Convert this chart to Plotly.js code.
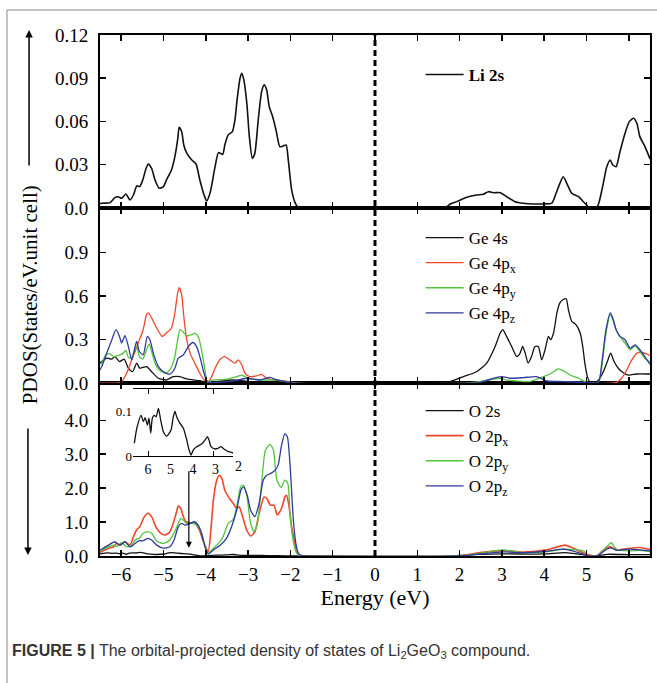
<!DOCTYPE html>
<html><head><meta charset="utf-8">
<script src="https://cdn.plot.ly/plotly-3.0.1.min.js"></script>
<style>html,body{margin:0;padding:0;background:#fff}</style>
</head><body><div id="chart" style="width:657px;height:683px"></div>
<script>
// ---------- DATA (energy in eV, PDOS in states/eV.unit cell) ----------
const xTicks = [-6,-5,-4,-3,-2,-1,0,1,2,3,4,5,6];

// Li 2s (top panel)
const li2sE = [-6.5,-6.46,-6.26,-6.15,-6.07,-5.99,-5.89,-5.79,-5.71,-5.63,-5.56,-5.49,-5.41,-5.36,-5.28,-5.20,-5.10,-5.00,-4.93,-4.81,-4.73,-4.66,-4.63,-4.57,-4.52,-4.45,-4.33,-4.23,-4.14,-4.04,-3.98,-3.90,-3.78,-3.70,-3.60,-3.55,-3.47,-3.37,-3.31,-3.26,-3.19,-3.15,-3.10,-3.03,-2.97,-2.90,-2.84,-2.76,-2.68,-2.62,-2.56,-2.50,-2.42,-2.34,-2.25,-2.17,-2.10,-2.05,-1.97,-1.89,-1.83,-1.75,1.65,1.77,1.93,2.17,2.40,2.56,2.68,2.80,2.96,3.11,3.31,3.51,3.74,3.98,4.18,4.28,4.37,4.45,4.55,4.65,4.81,4.96,5.08,5.24,5.30,5.38,5.48,5.56,5.62,5.70,5.79,5.91,6.01,6.11,6.19,6.26,6.38,6.48,6.5];
const li2sV = [0.003,0.0033,0.0037,0.0072,0.0078,0.0067,0.0097,0.0056,0.009,0.0153,0.0148,0.0194,0.0275,0.0305,0.0275,0.0194,0.0137,0.0148,0.0194,0.0264,0.0356,0.0484,0.056,0.053,0.0437,0.038,0.0333,0.0305,0.0194,0.009,0.0049,0.0102,0.0287,0.0384,0.0372,0.0437,0.0507,0.053,0.0611,0.075,0.090,0.0935,0.0889,0.0727,0.0495,0.0345,0.038,0.0611,0.0807,0.0854,0.0819,0.0703,0.0634,0.0541,0.0426,0.043,0.0437,0.0333,0.0125,0.0037,0.0009,0,0,0.0026,0.0044,0.0074,0.009,0.0095,0.0113,0.0106,0.0106,0.0078,0.0044,0.0033,0.0028,0.0028,0.0033,0.0102,0.0171,0.0217,0.016,0.0102,0.0078,0.0033,0,0,0.0044,0.0148,0.0287,0.0333,0.0298,0.0287,0.039,0.0518,0.0599,0.0622,0.0588,0.0495,0.0426,0.0356,0.034];

// Ge 4s, 4px, 4py, 4pz (middle panel)
const ge4sE = [-6.5,-6.46,-6.34,-6.22,-6.15,-6.04,-5.93,-5.83,-5.73,-5.63,-5.56,-5.40,-5.28,-5.12,-4.93,-4.77,-4.61,-4.45,-4.14,-3.96,-3.35,-2.96,-2.5,-2.0,1.5,1.77,2.09,2.40,2.64,2.84,2.96,3.02,3.11,3.23,3.35,3.43,3.49,3.55,3.62,3.70,3.78,3.86,3.94,4.02,4.10,4.15,4.22,4.30,4.37,4.45,4.52,4.57,4.65,4.75,4.85,4.91,4.96,5.02,5.08,5.24,5.36,5.48,5.57,5.65,5.75,5.87,5.99,6.19,6.46,6.5];
const ge4sV = [0.14,0.148,0.171,0.164,0.182,0.148,0.164,0.102,0.078,0.137,0.102,0.113,0.078,0.033,0.021,0.044,0.044,0.028,0.016,0.005,0.021,0.01,0.005,0,0,0.009,0.044,0.078,0.137,0.252,0.344,0.367,0.321,0.252,0.182,0.206,0.252,0.206,0.137,0.182,0.252,0.252,0.159,0.229,0.321,0.298,0.344,0.483,0.552,0.575,0.58,0.506,0.425,0.402,0.344,0.252,0.137,0.044,0.009,0.009,0.055,0.137,0.206,0.148,0.102,0.071,0.055,0.062,0.062,0.062];

const ge4pxE = [-6.5,-6.1,-5.99,-5.87,-5.75,-5.67,-5.60,-5.49,-5.40,-5.36,-5.28,-5.16,-5.03,-4.93,-4.81,-4.73,-4.67,-4.63,-4.57,-4.52,-4.45,-4.37,-4.26,-4.14,-4.04,-3.96,-3.86,-3.78,-3.66,-3.55,-3.43,-3.31,-3.23,-3.15,-3.07,-2.96,-2.80,-2.68,-2.56,-2.40,-2.21,-2.01,-1.9,5.6,5.71,5.83,5.95,6.07,6.19,6.31,6.42,6.5];
const ge4pxV = [0,0,0.009,0.067,0.16,0.217,0.275,0.356,0.471,0.483,0.448,0.379,0.321,0.344,0.379,0.483,0.61,0.656,0.61,0.46,0.298,0.206,0.137,0.067,0.021,0.002,0.044,0.102,0.164,0.182,0.159,0.137,0.159,0.125,0.067,0.044,0.049,0.06,0.033,0.021,0.016,0.009,0,0,0.005,0.033,0.09,0.159,0.206,0.21,0.2,0.19];

const ge4pyE = [-6.5,-6.46,-6.36,-6.26,-6.18,-6.11,-6.03,-5.95,-5.89,-5.83,-5.75,-5.67,-5.63,-5.57,-5.49,-5.40,-5.34,-5.28,-5.20,-5.10,-4.96,-4.85,-4.75,-4.69,-4.61,-4.55,-4.45,-4.33,-4.26,-4.18,-4.10,-4.02,-3.96,-3.82,-3.51,-3.27,-3.15,-3.00,-2.72,-2.40,-2.17,-1.9,2.2,2.48,2.96,3.11,3.35,3.66,3.98,4.14,4.33,4.45,4.61,4.81,4.96,5.08,5.28,5.36,5.46,5.56,5.62,5.70,5.79,5.91,6.03,6.15,6.26,6.38,6.48,6.5];
const ge4pyV = [0.13,0.137,0.194,0.2,0.182,0.187,0.194,0.206,0.224,0.178,0.171,0.24,0.252,0.182,0.164,0.229,0.27,0.217,0.137,0.09,0.067,0.09,0.159,0.252,0.367,0.356,0.326,0.333,0.344,0.321,0.229,0.09,0.009,0.021,0.026,0.044,0.055,0.033,0.021,0.021,0.014,0,0,0.009,0.033,0.021,0.014,0.01,0.044,0.062,0.097,0.085,0.055,0.033,0.01,0,0.005,0.113,0.344,0.471,0.437,0.367,0.321,0.275,0.229,0.256,0.217,0.171,0.148,0.145];

const ge4pzE = [-6.5,-6.46,-6.34,-6.22,-6.12,-6.04,-5.99,-5.91,-5.83,-5.75,-5.67,-5.63,-5.57,-5.48,-5.38,-5.32,-5.24,-5.12,-5.00,-4.85,-4.73,-4.65,-4.53,-4.41,-4.30,-4.22,-4.14,-4.04,-3.96,-3.35,-3.03,-2.72,-2.48,-2.32,-1.9,2.2,2.48,2.72,2.99,3.19,3.51,3.82,4.06,4.45,4.96,5.28,5.36,5.46,5.56,5.62,5.70,5.79,5.91,6.03,6.15,6.26,6.38,6.48,6.5];
const ge4pzV = [0.09,0.113,0.206,0.298,0.367,0.321,0.275,0.326,0.252,0.159,0.252,0.286,0.217,0.194,0.321,0.298,0.206,0.113,0.078,0.062,0.102,0.171,0.194,0.252,0.279,0.252,0.182,0.067,0.009,0.014,0.033,0.021,0.039,0.021,0,0,0.005,0.026,0.044,0.033,0.037,0.044,0.014,0.01,0.005,0.005,0.137,0.367,0.483,0.448,0.367,0.321,0.298,0.24,0.263,0.229,0.182,0.137,0.13];

// O 2s, 2px, 2py, 2pz (bottom panel; O 2s also shown magnified in the inset)
const o2sE = [-6.61,-6.50,-6.31,-6.21,-6.13,-6.03,-5.96,-5.88,-5.81,-5.72,-5.64,-5.54,-5.44,-5.32,-5.17,-4.98,-4.88,-4.80,-4.73,-4.58,-4.43,-4.28,-4.18,-4.09,-3.99,-3.84,-3.62,-3.47,-3.36,-3.29,-3.20,-3.05,-2.90,-2.76,-2.58,-2.43,-2.28,-2.0,-1.8,1.8,2.0,3.0,4.0,4.5,5.0,5.2,5.5,6.0,6.5];
const o2sV = [0.029,0.063,0.092,0.078,0.087,0.070,0.086,0.052,0.086,0.092,0.089,0.108,0.082,0.055,0.045,0.059,0.089,0.101,0.089,0.074,0.063,0.036,0.014,0.002,0.014,0.021,0.027,0.036,0.044,0.036,0.021,0.016,0.017,0.021,0.014,0.010,0.008,0.004,0,0,0.02,0.06,0.06,0.1,0.02,0,0.05,0.04,0.04];

const o2pxE = [-6.5,-6.46,-6.30,-6.18,-6.11,-6.03,-5.91,-5.79,-5.71,-5.63,-5.56,-5.46,-5.37,-5.28,-5.18,-5.08,-4.96,-4.85,-4.77,-4.69,-4.65,-4.59,-4.53,-4.47,-4.37,-4.26,-4.15,-4.07,-3.99,-3.94,-3.88,-3.82,-3.74,-3.68,-3.62,-3.55,-3.44,-3.35,-3.27,-3.21,-3.13,-3.03,-2.94,-2.84,-2.74,-2.62,-2.56,-2.47,-2.39,-2.31,-2.21,-2.13,-2.09,-2.03,-1.97,-1.91,-1.85,-1.75,2.0,2.48,3.03,3.51,4.06,4.49,4.69,5.0,5.24,5.40,5.56,5.71,6.03,6.26,6.48,6.5];
const o2pxV = [0.1,0.13,0.23,0.27,0.37,0.32,0.42,0.32,0.57,0.78,0.86,1.14,1.26,1.16,0.86,0.69,0.62,0.71,0.96,1.30,1.47,1.40,1.16,1.01,0.98,0.96,0.76,0.47,0.23,0.13,0.76,1.65,2.24,2.38,2.29,1.94,1.70,1.55,1.40,1.45,1.16,0.76,0.59,0.71,1.26,1.74,1.70,1.50,1.50,1.21,1.40,1.74,1.79,1.45,0.86,0.47,0.13,0,0,0.1,0.16,0.12,0.18,0.32,0.23,0.05,0,0.18,0.27,0.18,0.23,0.25,0.2,0.2];

const o2pyE = [-6.5,-6.46,-6.30,-6.18,-6.11,-5.99,-5.87,-5.75,-5.65,-5.57,-5.48,-5.37,-5.28,-5.16,-5.00,-4.85,-4.74,-4.65,-4.59,-4.53,-4.45,-4.30,-4.19,-4.10,-4.02,-3.94,-3.82,-3.70,-3.59,-3.47,-3.35,-3.26,-3.17,-3.11,-3.03,-2.94,-2.86,-2.78,-2.68,-2.59,-2.48,-2.40,-2.32,-2.22,-2.13,-2.06,-2.01,-1.95,-1.87,-1.78,2.0,2.48,3.03,3.50,4.06,4.45,4.93,5.05,5.24,5.48,5.58,5.71,6.0,6.26,6.48,6.5];
const o2pyV = [0.14,0.17,0.27,0.32,0.28,0.39,0.27,0.32,0.49,0.52,0.67,0.71,0.67,0.44,0.37,0.47,0.71,0.96,1.11,1.06,0.96,0.96,0.88,0.67,0.32,0.08,0.23,0.37,0.57,0.96,1.08,1.50,2.06,2.09,1.79,0.96,0.71,0.96,2.14,3.12,3.29,3.12,2.24,2.02,2.24,2.14,1.26,0.57,0.13,0,0,0.08,0.18,0.1,0.12,0.2,0.15,0,0,0.27,0.39,0.2,0.15,0.17,0.13,0.13];

const o2pzE = [-6.5,-6.46,-6.30,-6.15,-6.03,-5.91,-5.79,-5.67,-5.57,-5.48,-5.37,-5.28,-5.16,-5.00,-4.85,-4.75,-4.65,-4.57,-4.49,-4.37,-4.27,-4.18,-4.10,-4.02,-3.94,-3.82,-3.66,-3.51,-3.39,-3.27,-3.17,-3.11,-3.02,-2.94,-2.84,-2.74,-2.64,-2.56,-2.47,-2.36,-2.29,-2.21,-2.13,-2.07,-2.01,-1.93,-1.87,-1.81,-1.7,2.0,2.48,3.03,3.50,4.06,4.45,4.81,5.0,5.24,5.48,5.58,5.71,6.0,6.26,6.48,6.5];
const o2pzV = [0.17,0.2,0.32,0.42,0.32,0.42,0.27,0.37,0.45,0.45,0.52,0.47,0.32,0.23,0.27,0.47,0.86,0.96,0.91,0.96,1.01,0.91,0.67,0.27,0.06,0.18,0.32,0.52,0.86,1.35,1.94,2.04,1.79,1.35,1.16,1.55,2.24,2.38,2.43,2.53,2.68,3.26,3.61,3.51,2.73,1.06,0.37,0.08,0,0,0.06,0.12,0.1,0.14,0.2,0.1,0.02,0,0.2,0.24,0.17,0.2,0.18,0.15,0.15];

// tick labels
const topTickVals = [0,0.03,0.06,0.09,0.12], topTickText = ['0.0','0.03','0.06','0.09','0.12'];
const midTickVals = [0,0.3,0.6,0.9], midTickText = ['0.0','0.3','0.6','0.9'];
const botTickVals = [0,1,2,3,4], botTickText = ['0.0','1.0','2.0','3.0','4.0'];
const insetTickVals = [-6,-5,-4,-3], insetTickText = ['6','5','4','3'];
const insetEndTickText = '2';   // label just past the inset axis end

// ---------- STYLE ----------
const RED='#f0472a', GREEN='#52c43c', BLUE='#2f3a9c', BLACK='#111111';
const SERIF='"Liberation Serif","Times New Roman",serif';

function tr(x,y,name,color,w,xa,ya,legend){
  return {x:x,y:y,name:name,type:'scatter',mode:'lines',line:{color:color,width:w,shape:'spline',smoothing:0.6},
    xaxis:xa,yaxis:ya,legend:legend,showlegend:!!legend};
}
const traces = [
  tr(li2sE,li2sV,'<b>Li 2s</b>',BLACK,1.6,'x3','y3','legend'),
  tr(ge4sE,ge4sV,'Ge 4s',BLACK,1.3,'x2','y2','legend2'),
  tr(ge4pxE,ge4pxV,'Ge 4p<sub>x</sub>',RED,1.3,'x2','y2','legend2'),
  tr(ge4pyE,ge4pyV,'Ge 4p<sub>y</sub>',GREEN,1.3,'x2','y2','legend2'),
  tr(ge4pzE,ge4pzV,'Ge 4p<sub>z</sub>',BLUE,1.3,'x2','y2','legend2'),
  tr(o2sE,o2sV,'O 2s',BLACK,1.3,'x','y','legend3'),
  tr(o2pxE,o2pxV,'O 2p<sub>x</sub>',RED,1.6,'x','y','legend3'),
  tr(o2pyE,o2pyV,'O 2p<sub>y</sub>',GREEN,1.3,'x','y','legend3'),
  tr(o2pzE,o2pzV,'O 2p<sub>z</sub>',BLUE,1.3,'x','y','legend3'),
  tr(o2sE,o2sV,'O 2s inset',BLACK,1.3,'x4','y4',null)
];

const axBase = {showline:true,linewidth:2,linecolor:'#000',mirror:'ticks',ticks:'inside',ticklen:6,tickwidth:1.5,tickcolor:'#000',
  showgrid:false,zeroline:false,tickfont:{family:SERIF,size:19,color:'#000'}};
const xBase = Object.assign({},axBase,{range:[-6.5,6.5],tickvals:xTicks});
const dTop=[0.668,1], dMid=[0.332,0.668], dBot=[0,0.332];

const legBase = {font:{family:SERIF,size:17,color:'#000'},bgcolor:'rgba(0,0,0,0)',xanchor:'left',yanchor:'top',tracegroupgap:0,itemwidth:38};

const layout = {
  width:657,height:683,margin:{l:100,r:7,t:35,b:127},
  paper_bgcolor:'#fff',plot_bgcolor:'rgba(0,0,0,0)',
  xaxis:Object.assign({},xBase,{anchor:'y',domain:[0,1],
    title:{text:'Energy (eV)',font:{family:SERIF,size:22,color:'#000'},standoff:0}}),
  yaxis:Object.assign({},axBase,{domain:dBot,range:[0,5.1],tickvals:botTickVals,ticktext:botTickText,anchor:'x',ticklabelstandoff:6}),
  xaxis2:Object.assign({},xBase,{anchor:'y2',matches:'x',showticklabels:false}),
  yaxis2:Object.assign({},axBase,{domain:dMid,range:[0,1.205],tickvals:midTickVals,ticktext:midTickText,anchor:'x2',ticklabelstandoff:6}),
  xaxis3:Object.assign({},xBase,{anchor:'y3',matches:'x',showticklabels:false}),
  yaxis3:Object.assign({},axBase,{domain:dTop,range:[0,0.12],tickvals:topTickVals,ticktext:topTickText,anchor:'x3',ticklabelstandoff:6}),
  xaxis4:{domain:[0.06,0.242],anchor:'y4',range:[-6.67,-2.22],showline:true,linewidth:1.2,linecolor:'#000',mirror:'ticks',
    ticks:'',tickvals:insetTickVals,ticktext:insetTickText,showgrid:false,zeroline:false,
    minor:{tickvals:[-6,-3.1],ticks:'inside',ticklen:5,tickcolor:'#000',tickwidth:1},
    tickfont:{family:SERIF,size:14,color:'#000'}},
  yaxis4:{domain:[0.192,0.3205],anchor:'x4',range:[0,0.152],showline:false,ticks:'',tickvals:[0,0.1],ticktext:['0','0.1'],
    showgrid:false,zeroline:false,tickfont:{family:SERIF,size:13,color:'#000'},ticklabelstandoff:0},
  legend:Object.assign({},legBase,{x:0.583,y:(556-57)/521}),
  legend2:Object.assign({},legBase,{x:0.583,y:(556-220)/521}),
  legend3:Object.assign({},legBase,{x:0.583,y:(556-393)/521}),
  shapes:[
    {type:'line',xref:'x',yref:'paper',x0:0,x1:0,y0:0,y1:1,line:{color:'#000',width:3,dash:'6px,4px'}},
    {type:'line',xref:'paper',yref:'paper',x0:-0.1691,x1:-0.1691,y0:1.048,y1:-0.25,line:{color:'#888',width:1}},
    {type:'line',xref:'paper',yref:'paper',x0:-0.1691,x1:1.02,y0:1.048,y1:1.048,line:{color:'#888',width:1}}
  ],
  annotations:[
    {xref:'paper',yref:'paper',x:-0.127,y:0.501,xanchor:'center',yanchor:'middle',text:'PDOS(States/eV.unit cell)',textangle:-90,showarrow:false,
      font:{family:SERIF,size:21,color:'#000'}},
    {xref:'paper',yref:'paper',x:-0.129,y:1.0096,text:'',showarrow:true,arrowhead:2,arrowsize:1,arrowwidth:1.5,arrowcolor:'#000',ax:0,ay:137},
    {xref:'paper',yref:'paper',x:-0.131,y:0.002,text:'',showarrow:true,arrowhead:2,arrowsize:1,arrowwidth:1.5,arrowcolor:'#000',ax:0,ay:-128},
    {xref:'x',yref:'y',x:-4.40,y:0.24,text:'',showarrow:true,arrowhead:2,arrowsize:1,arrowwidth:1.2,arrowcolor:'#000',ax:0,ay:-78},
    {xref:'paper',yref:'paper',x:(238-100)/550,y:(556-466)/521,xanchor:'center',yanchor:'middle',text:insetEndTickText,showarrow:false,
      font:{family:SERIF,size:14,color:'#000'}},
    {xref:'paper',yref:'paper',x:-0.1636,y:-0.184,xanchor:'left',yanchor:'middle',text:'<b>FIGURE 5 |</b> The orbital-projected density of states of Li<sub>2</sub>GeO<sub>3</sub> compound.',
      showarrow:false,font:{family:'"Liberation Sans",Arial,sans-serif',size:16,color:'#333'}}
  ]
};
Plotly.newPlot('chart',traces,layout,{staticPlot:true});
</script></body></html>
